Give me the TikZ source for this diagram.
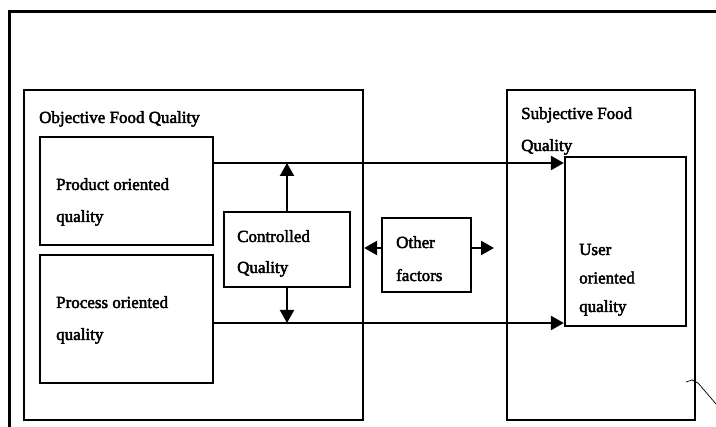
\documentclass[tikz,border=0pt]{standalone}
\usepackage{fontspec}
\setmainfont[FakeBold=2.5]{Liberation Serif}
\usetikzlibrary{arrows.meta}
\begin{document}
\begin{tikzpicture}[x=1pt,y=1pt,
  box/.style={draw, line width=2.2pt, rectangle, inner sep=0pt},
  lbl/.style={anchor=base west, inner sep=0pt, align=left,
    font=\fontsize{17}{32}\selectfont},
  arr/.style={line width=2.2pt, -{Triangle[length=13pt,width=14pt]}}]
\useasboundingbox (0,0) rectangle (716,-427);
% outer frame running off the page
\draw[line width=3pt] (9,-440) -- (9,-12) -- (730,-12);
% group boxes
\node[box, minimum width=339, minimum height=330] (obj) at (193.5,-255) {};
\node[box, minimum width=188, minimum height=330] (subj) at (601,-255) {};
% inner boxes
\node[box, minimum width=173, minimum height=108] (prod) at (126.5,-191) {};
\node[box, minimum width=173, minimum height=128] (proc) at (126.5,-319) {};
\node[box, minimum width=126, minimum height=75] (ctrl) at (287,-249.5) {};
\node[box, minimum width=89, minimum height=74] (other) at (426.5,-255) {};
\node[box, minimum width=121, minimum height=169] (user) at (625.5,-241.5) {};
% labels (anchored at the baseline of their last line)
\node[lbl] (objT) at (39,-123) {Objective Food Quality};
\node[lbl] (subjT) at (521,-151) {Subjective Food\\Quality};
\node[lbl] (prodT) at (56,-222) {Product oriented\\quality};
\node[lbl] (procT) at (56,-340) {Process oriented\\quality};
\node[lbl, font=\fontsize{17}{31}\selectfont] (ctrlT) at (237,-273) {Controlled\\Quality};
\node[lbl, font=\fontsize{17}{33}\selectfont] (otherT) at (396,-281) {Other\\factors};
\node[lbl, font=\fontsize{17}{28.5}\selectfont] (userT) at (579,-312) {User\\oriented\\quality};
% connector levels
\coordinate (ytop) at (0,-163);
\coordinate (ybot) at (0,-323);
\coordinate (ymid) at (0,-248);
\coordinate (oright) at (494,-248);
% main flows
\draw[arr] (prod.east |- ytop) -- (user.west |- ytop);
\draw[arr] (proc.east |- ybot) -- (user.west |- ybot);
\draw[arr] (ctrl.north) -- (ctrl.north |- ytop);
\draw[arr] (ctrl.south) -- (ctrl.south |- ybot);
% other factors, both ways
\draw[arr] (other.west |- ymid) -- (obj.east |- ymid);
\draw[arr] (other.east |- ymid) -- (oright);
% pen stroke at the lower right
\draw[line width=0.7pt] (686,-382) -- (692,-380) -- (698,-383) -- (716,-404);
\end{tikzpicture}
\end{document}
